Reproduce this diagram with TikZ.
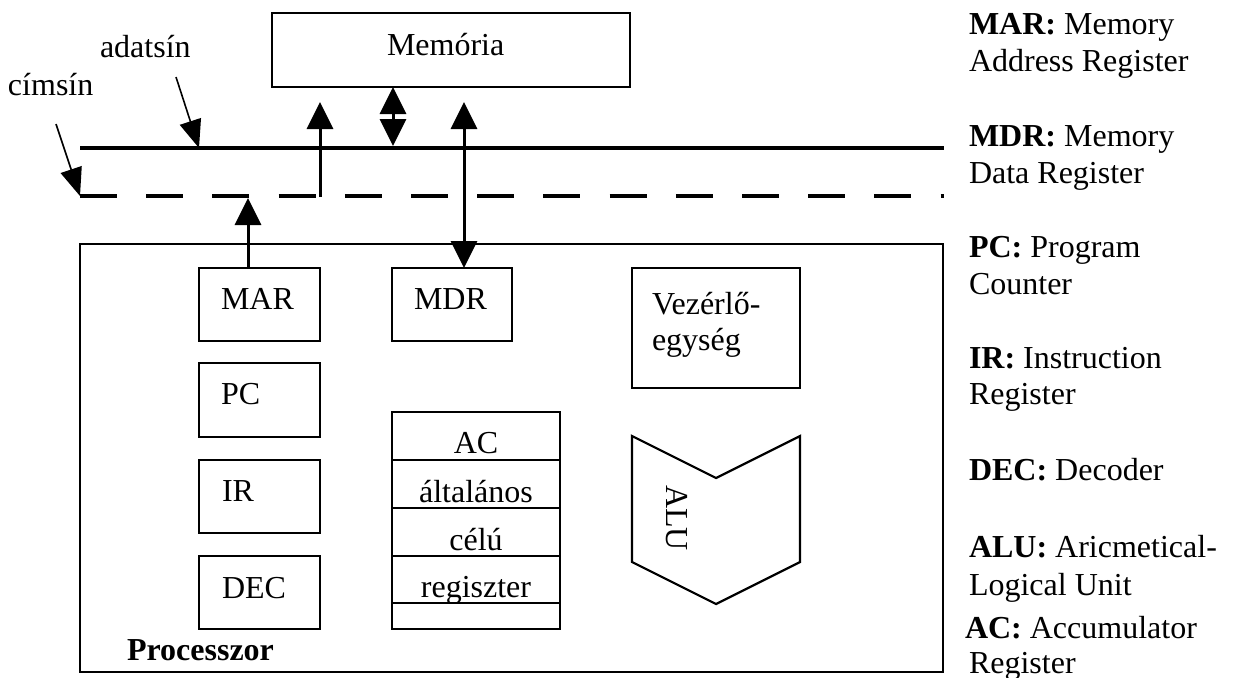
\documentclass[tikz,border=0pt]{standalone}
\usepackage{fontspec}
\setmainfont{Liberation Serif}
\usetikzlibrary{arrows.meta,fit}
\begin{document}
\begin{tikzpicture}[x=0.5pt,y=-0.5pt,
  every node/.style={font=\fontsize{16}{18}\selectfont, inner sep=0pt, outer sep=0pt},
  box/.style={draw, line width=1.1pt, inner sep=0pt, outer sep=0pt},
  lbl/.style={anchor=base west},
  ctr/.style={anchor=base},
  bus/.style={line width=2.4pt},
  abus/.style={line width=2.4pt, dash pattern=on 18.5pt off 14.6pt},
  arr/.style={line width=1.5pt, -{Triangle[length=13.5pt,width=13pt]}},
  darr/.style={line width=1.5pt, {Triangle[length=13.5pt,width=13pt]}-{Triangle[length=13.5pt,width=13pt]}},
  tarr/.style={line width=0.8pt, -{Triangle[length=14pt,width=11pt]}},
]
\useasboundingbox (0,0) rectangle (1234,677);

% Memory
\node[box, fit={(272,13) (630,87)}] (mem) {};
\node[lbl] (memT) at (387,55) {Memória};

% buses
\coordinate (dbL) at (80,148);
\coordinate (dbR) at (944,148);
\coordinate (abL) at (80,196);
\coordinate (abR) at (944,196);
\draw[bus] (dbL) -- (dbR);
\draw[abus] (abL) -- (abR);

% bus labels
\node[lbl] (adat) at (100,57) {adatsín};
\node[lbl] (cim) at (8,95) {címsín};
\coordinate (adatS) at (176,77);
\coordinate (adatE) at (199,148);
\coordinate (cimS) at (56,124);
\coordinate (cimE) at (80,196);
\draw[tarr] (adatS) -- (adatE);
\draw[tarr] (cimS) -- (cimE);

% processor
\node[box, line width=0.8pt, fit={(80,244) (943,672)}] (proc) {};
\node[lbl, font=\fontsize{16}{18}\selectfont\bfseries] (procT) at (127,660) {Processzor};

% registers
\node[box, fit={(199,268) (320,341)}] (mar) {};
\node[lbl] (marT) at (221,309) {MAR};
\node[box, fit={(392,268) (512,341)}] (mdr) {};
\node[lbl] (mdrT) at (414,309) {MDR};
\node[box, fit={(199,363) (320,437)}] (pc) {};
\node[lbl] (pcT) at (221,404) {PC};
\node[box, fit={(199,460) (320,533)}] (ir) {};
\node[lbl] (irT) at (222,501) {IR};
\node[box, fit={(199,556) (320,629)}] (dec) {};
\node[lbl] (decT) at (222,598) {DEC};

% control unit
\node[box, fit={(632,268) (800,388)}] (vez) {};
\node[lbl] (vezT1) at (652,314) {Vezérlő-};
\node[lbl] (vezT2) at (652,350) {egység};

% AC stack
\node[box, fit={(392,412) (560,460)}] (c1) {};
\node[box, fit={(392,460) (560,508)}] (c2) {};
\node[box, fit={(392,508) (560,556)}] (c3) {};
\node[box, fit={(392,556) (560,603)}] (c4) {};
\node[box, fit={(392,603) (560,629)}] (c5) {};
\node[ctr] (c1T) at (476,453) {AC};
\node[ctr] (c2T) at (476,502) {általános};
\node[ctr] (c3T) at (476,550) {célú};
\node[ctr] (c4T) at (476,597) {regiszter};

% ALU
\draw[line width=1.1pt, line join=miter] (632,436) -- (716,478) -- (800,436) -- (800,562) -- (716,604) -- (632,562) -- cycle;
\node[rotate=-90] (alu) at (677,518) {ALU};

% connectors
\coordinate (marE) at (248,198);
\draw[arr] (mar.north -| marE) -- (marE);
\coordinate (aS) at (320,197);
\coordinate (aE) at (320,102);
\draw[arr] (aS) -- (aE);
\coordinate (dS) at (393,146);
\draw[darr] (dS) -- (mem.south -| dS);
\coordinate (mS) at (464,102);
\draw[darr] (mS) -- (mdr.north -| mS);

% legend
\node[lbl] (k1a) at (969,34) {\textbf{MAR:} Memory};
\node[lbl] (k1b) at (969,71) {Address Register};
\node[lbl] (k2a) at (969,146) {\textbf{MDR:} Memory};
\node[lbl] (k2b) at (969,183) {Data Register};
\node[lbl] (k3a) at (969,257) {\textbf{PC:} Program};
\node[lbl] (k3b) at (969,294) {Counter};
\node[lbl] (k4a) at (969,368) {\textbf{IR:} Instruction};
\node[lbl] (k4b) at (969,404) {Register};
\node[lbl] (k5a) at (969,480) {\textbf{DEC:} Decoder};
\node[lbl] (k6a) at (969,557) {\textbf{ALU:} Aricmetical-};
\node[lbl] (k6b) at (969,595) {Logical Unit};
\node[lbl] (k7a) at (965,638) {\textbf{AC:} Accumulator};
\node[lbl] (k7b) at (969,673) {Register};
\end{tikzpicture}
\end{document}
